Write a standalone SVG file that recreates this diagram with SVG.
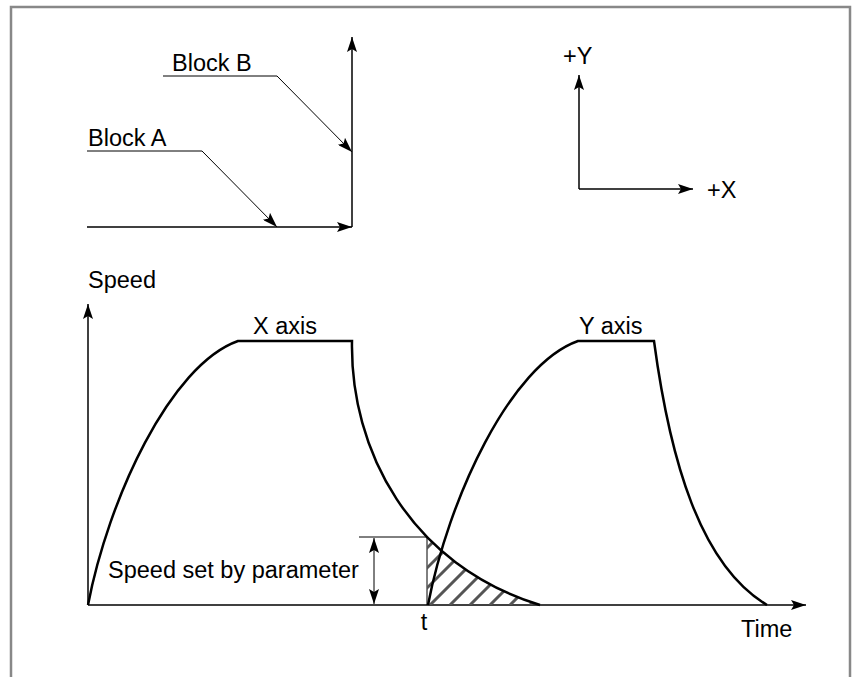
<svg xmlns="http://www.w3.org/2000/svg" width="852" height="677" viewBox="0 0 852 677">
<style>
text{font-family:"Liberation Sans",Arial,sans-serif;font-size:23.5px;fill:#000}
.axis{stroke:#000;stroke-width:1.5;fill:none}
.thin{stroke:#000;stroke-width:1;fill:none}
.curve{stroke:#000;stroke-width:2.5;fill:none;stroke-linejoin:miter}
.hatch{stroke:#555;stroke-width:3}
</style>
<defs>
<marker id="ah" markerUnits="userSpaceOnUse" markerWidth="16" markerHeight="10" refX="15" refY="5" orient="auto-start-reverse">
<path d="M0,0 L15,5 L0,10 L3,5 Z" fill="#000"/>
</marker>
<clipPath id="clipRect"><rect x="427" y="400" width="140" height="205"/></clipPath>
<clipPath id="clipCurve"><path d="M352,341 C350,450 410,565 540,605 L300,605 L300,341 Z"/></clipPath>
</defs>
<rect width="852" height="677" fill="#fff"/>
<path d="M11,690 L11,7 L850,7 L850,690" fill="none" stroke="#888" stroke-width="2.5"/>

<g id="connectors">
<line class="axis" x1="87" y1="227" x2="352" y2="227" marker-end="url(#ah)" stroke-width="2"/>
<line class="axis" x1="352" y1="227" x2="352" y2="37" marker-end="url(#ah)" stroke-width="2"/>
<polyline class="thin" points="163,76 277,76 352,152" marker-end="url(#ah)"/>
<polyline class="thin" points="87,151 202,151 277,227" marker-end="url(#ah)"/>
<line class="axis" x1="579" y1="189" x2="579" y2="75" marker-end="url(#ah)"/>
<line class="axis" x1="579" y1="189" x2="693" y2="189" marker-end="url(#ah)"/>
<line class="axis" x1="88" y1="605" x2="88" y2="304" marker-end="url(#ah)"/>
<line class="axis" x1="88" y1="605" x2="806" y2="605" marker-end="url(#ah)"/>
<line class="thin" x1="359" y1="537" x2="427" y2="537"/>
<line class="thin" x1="427" y1="537" x2="427" y2="605"/>
<line class="thin" x1="374" y1="538" x2="374" y2="604" marker-start="url(#ah)" marker-end="url(#ah)"/>
</g>

<g id="hatch">
<g clip-path="url(#clipRect)"><g clip-path="url(#clipCurve)">
<line class="hatch" x1="350" y1="605" x2="470" y2="485"/>
<line class="hatch" x1="370" y1="605" x2="490" y2="485"/>
<line class="hatch" x1="390" y1="605" x2="510" y2="485"/>
<line class="hatch" x1="410" y1="605" x2="530" y2="485"/>
<line class="hatch" x1="430" y1="605" x2="550" y2="485"/>
<line class="hatch" x1="450" y1="605" x2="570" y2="485"/>
<line class="hatch" x1="470" y1="605" x2="590" y2="485"/>
<line class="hatch" x1="490" y1="605" x2="610" y2="485"/>
<line class="hatch" x1="510" y1="605" x2="630" y2="485"/>
<line class="hatch" x1="530" y1="605" x2="650" y2="485"/>
</g></g>
</g>

<g id="x-axis-curve">
<path class="curve" d="M88,605 C108,500 170,365 238,341 L352,341 C350,450 410,565 540,605"/>
</g>
<g id="y-axis-curve">
<path class="curve" d="M428,605 C448,500 510,365 578,341 L654,341 C670,460 700,565 767,605"/>
</g>

<g id="labels">
<text x="172" y="71">Block B</text>
<text x="88" y="146">Block A</text>
<text x="563" y="64">+Y</text>
<text x="707" y="198">+X</text>
<text x="88" y="288">Speed</text>
<text x="253" y="334">X axis</text>
<text x="579" y="334">Y axis</text>
<text x="108" y="578">Speed set by parameter</text>
<text x="424" y="630" text-anchor="middle">t</text>
<text x="741" y="637">Time</text>
</g>
</svg>
